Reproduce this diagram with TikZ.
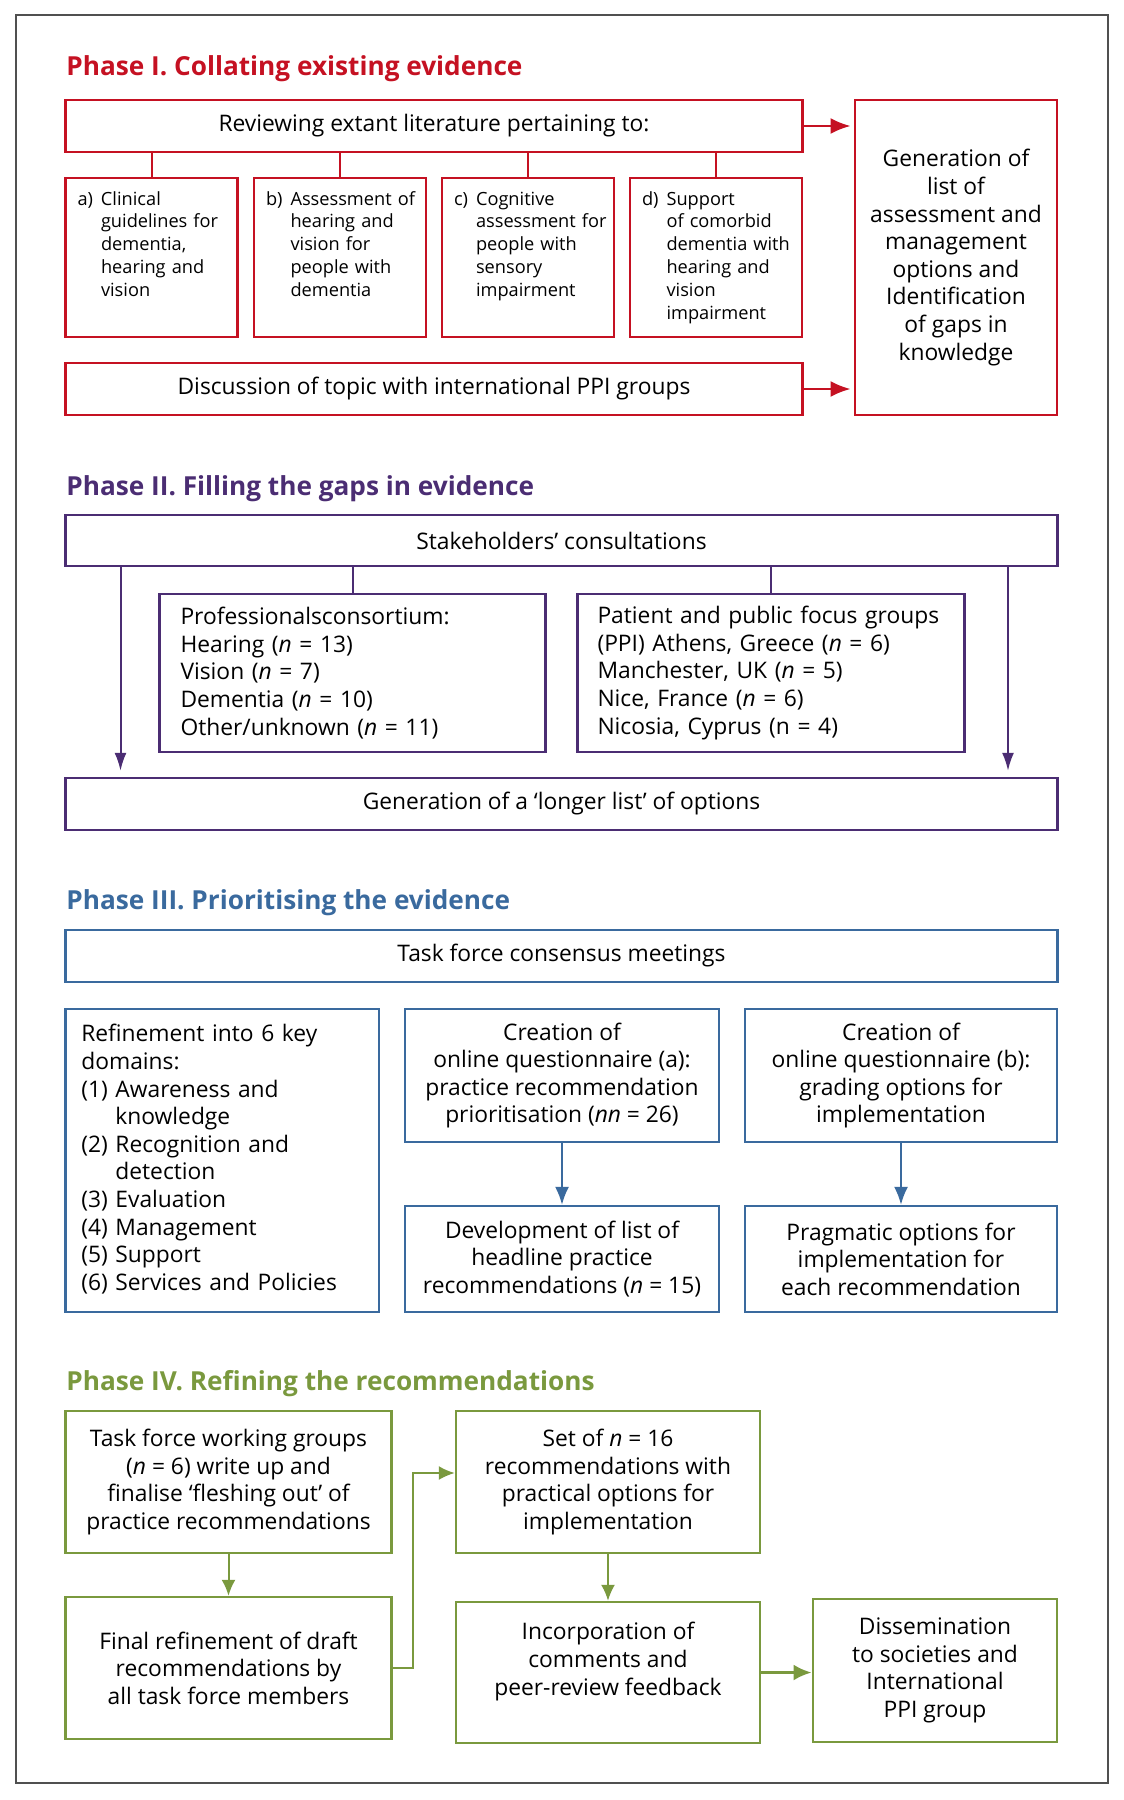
\documentclass[tikz,border=0pt]{standalone}
\usepackage{fontspec}
\setmainfont{Open Sans}
\usetikzlibrary{arrows.meta}

\definecolor{phred}{RGB}{197,17,34}
\definecolor{phpurple}{RGB}{75,45,115}
\definecolor{phblue}{RGB}{58,106,158}
\definecolor{phgreen}{RGB}{122,153,62}
\definecolor{framegray}{RGB}{80,80,80}

\newcommand{\bodyfont}{\fontsize{11.4}{13.8}\selectfont}
\newcommand{\smallbody}{\fontsize{9.1}{11.4}\selectfont}
\newcommand{\titlefont}{\fontsize{13.1}{15}\selectfont\bfseries}

\tikzset{
  box/.style={draw, line width=1.2pt, inner sep=0pt, align=center, font=\bodyfont, text=black},
  leftbox/.style={box, align=left},
  title/.style={anchor=base west, inner sep=0pt, font=\titlefont},
  link/.style={line width=1pt},
  redarr/.style={draw=phred, line width=1.2pt, shorten >=1.5pt, -{Latex[length=10pt,width=8pt]}},
  purarr/.style={draw=phpurple, link, shorten >=3pt, -{Latex[length=9pt,width=6pt]}},
  bluarr/.style={draw=phblue, link, -{Latex[length=9pt,width=7pt]}},
  grnarr/.style={draw=phgreen, link, -{Latex[length=8pt,width=7pt]}},
}

\begin{document}
\begin{tikzpicture}[x=0.5pt,y=-0.5pt]
    \useasboundingbox (0,0) rectangle (1124,1800);
    \draw[framegray, line width=1pt] (16,15) rectangle (1108,1783);

    % Phase I
    \node[title, phred] (t1) at (66,75) {Phase I. Collating existing evidence};
    \node[box, draw=phred, minimum width=368.5pt, minimum height=26pt] (review) at (434,126) {Reviewing extant literature pertaining to:};
    \node[leftbox, draw=phred, font=\smallbody, inner xsep=6pt, text width=74pt, minimum height=79.5pt] (boxa) at (151.5,257.5)
        {\begin{tabular}{@{}l@{\hspace{4pt}}l@{}}a) & Clinical\\ & guidelines for\\ & dementia,\\ & hearing and\\ & vision\\ & \end{tabular}};
    \node[leftbox, draw=phred, font=\smallbody, inner xsep=6pt, text width=74pt, minimum height=79.5pt] (boxb) at (340,257.5)
        {\begin{tabular}{@{}l@{\hspace{4pt}}l@{}}b) & Assessment of\\ & hearing and\\ & vision for\\ & people with\\ & dementia\\ & \end{tabular}};
    \node[leftbox, draw=phred, font=\smallbody, inner xsep=6pt, text width=74pt, minimum height=79.5pt] (boxc) at (528,257.5)
        {\begin{tabular}{@{}l@{\hspace{4pt}}l@{}}c) & Cognitive\\ & assessment for\\ & people with\\ & sensory\\ & impairment\\ & \end{tabular}};
    \node[leftbox, draw=phred, font=\smallbody, inner xsep=6pt, text width=74pt, minimum height=79.5pt] (boxd) at (716,257.5)
        {\begin{tabular}{@{}l@{\hspace{4pt}}l@{}}d) & Support\\ & of comorbid\\ & dementia with\\ & hearing and\\ & vision\\ & impairment\end{tabular}};
    \node[box, draw=phred, minimum width=368.5pt, minimum height=26pt] (discuss) at (434,389) {Discussion of topic with international PPI groups};
    \node[box, draw=phred, minimum width=101.25pt, minimum height=157.5pt] (genlist) at (956,257.5)
        {Generation of\\list of\\assessment and\\management\\options and\\Identification\\of gaps in\\knowledge};
    \foreach \b in {boxa,boxb,boxc,boxd}
        \draw[phred, link] (review.south -| \b.north) -- (\b.north);
    \draw[redarr] (review.east) -- (review.east -| genlist.west);
    \draw[redarr] (discuss.east) -- (discuss.east -| genlist.west);

    % Phase II
    \node[title, phpurple] (t2) at (66,495) {Phase II. Filling the gaps in evidence};
    \node[box, draw=phpurple, minimum width=496pt, minimum height=25.5pt] (stake) at (561.5,540.5) {Stakeholders’ consultations};
    \node[leftbox, draw=phpurple, inner xsep=10.5pt, text width=172pt, minimum height=79pt] (prof) at (352.5,673)
        {Professionalsconsortium:\\Hearing (\textit{n} = 13)\\Vision (\textit{n} = 7)\\Dementia (\textit{n} = 10)\\Other/unknown (\textit{n} = 11)};
    \node[leftbox, draw=phpurple, inner xsep=10pt, text width=173.5pt, minimum height=79pt] (ppi) at (771,673)
        {Patient and public focus groups\\(PPI) Athens, Greece (\textit{n} = 6)\\Manchester, UK (\textit{n} = 5)\\Nice, France (\textit{n} = 6)\\Nicosia, Cyprus (n = 4)};
    \node[box, draw=phpurple, minimum width=496pt, minimum height=26pt] (longer) at (561.5,804) {Generation of a ‘longer list’ of options};
    \coordinate (pl) at (120.5,0);
    \coordinate (pr) at (1008,0);
    \draw[phpurple, link] (stake.south -| prof.north) -- (prof.north);
    \draw[phpurple, link] (stake.south -| ppi.north) -- (ppi.north);
    \draw[purarr] (stake.south -| pl) -- (longer.north -| pl);
    \draw[purarr] (stake.south -| pr) -- (longer.north -| pr);

    % Phase III
    \node[title, phblue] (t3) at (66,909) {Phase III. Prioritising the evidence};
    \node[box, draw=phblue, minimum width=496pt, minimum height=26pt] (meet) at (561.5,956) {Task force consensus meetings};
    \node[leftbox, draw=phblue, inner xsep=8pt, text width=140.7pt, minimum height=151.5pt] (refine) at (222,1160.5)
        {\begin{tabular}{@{}l@{\ }l@{}}
        \multicolumn{2}{@{}l@{}}{Refinement into 6 key}\\
        \multicolumn{2}{@{}l@{}}{domains:}\\
        (1) & Awareness and\\ & knowledge\\
        (2) & Recognition and\\ & detection\\
        (3) & Evaluation\\
        (4) & Management\\
        (5) & Support\\
        (6) & Services and Policies
        \end{tabular}};
    \node[box, draw=phblue, minimum width=156.8pt, minimum height=66.5pt] (quesa) at (562,1075.5)
        {Creation of\\online questionnaire (a):\\practice recommendation\\prioritisation (\textit{nn} = 26)};
    \node[box, draw=phblue, minimum width=156pt, minimum height=66.5pt] (quesb) at (901,1075.5)
        {Creation of\\online questionnaire (b):\\grading options for\\implementation};
    \node[box, draw=phblue, minimum width=156.8pt, minimum height=53pt] (headline) at (562,1259)
        {Development of list of\\headline practice\\recommendations (\textit{n} = 15)};
    \node[box, draw=phblue, minimum width=156pt, minimum height=53pt] (pragma) at (901,1259)
        {Pragmatic options for\\implementation for\\each recommendation};
    \draw[bluarr] (quesa.south) -- (headline.north);
    \draw[bluarr] (quesb.south) -- (pragma.north);

    % Phase IV
    \node[title, phgreen] (t4) at (66,1390) {Phase IV. Refining the recommendations};
    \node[box, draw=phgreen, minimum width=163pt, minimum height=71pt] (working) at (228.5,1482)
        {Task force working groups\\(\textit{n} = 6) write up and\\finalise ‘fleshing out’ of\\practice recommendations};
    \node[box, draw=phgreen, minimum width=163pt, minimum height=71pt] (finaldraft) at (228.5,1668)
        {Final refinement of draft\\recommendations by\\all task force members};
    \node[box, draw=phgreen, minimum width=152pt, minimum height=71pt] (setof) at (608,1482)
        {Set of \textit{n} = 16\\recommendations with\\practical options for\\implementation};
    \node[box, draw=phgreen, minimum width=152pt, minimum height=70.5pt] (incorp) at (608,1672.5)
        {Incorporation of\\comments and\\peer-review feedback\\\mbox{}};
    \node[box, draw=phgreen, minimum width=122.25pt, minimum height=71.5pt] (dissem) at (935,1670.5)
        {Dissemination\\to societies and\\International\\PPI group};
    \coordinate (bend) at (413,1473);
    \draw[grnarr] (working.south) -- (finaldraft.north);
    \draw[grnarr] (setof.south) -- (incorp.north);
    \draw[grnarr] (finaldraft.east) -| (bend) -- (setof.west |- bend);
    \draw[grnarr, line width=1.4pt, -{Latex[length=9pt,width=8pt]}] (incorp.east) -- (incorp.east -| dissem.west);
\end{tikzpicture}
\end{document}
